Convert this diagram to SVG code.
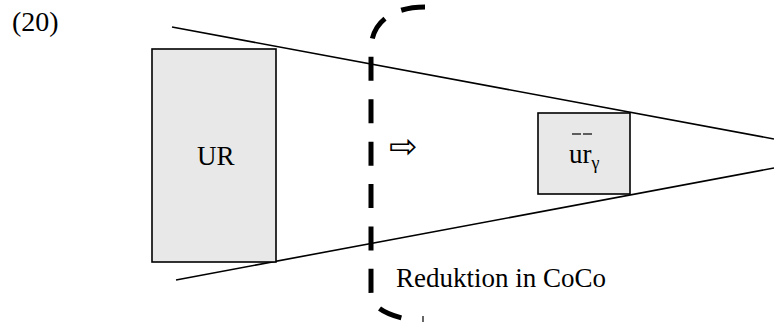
<svg xmlns="http://www.w3.org/2000/svg" width="774" height="322" viewBox="0 0 774 322">
<style>
.box{fill:#e8e8e8;stroke:#000;stroke-width:1.6}
.ln{stroke:#000;stroke-width:1.6;fill:none}
.dash{stroke:#000;stroke-width:5;fill:none;stroke-dasharray:24 18.4}
.t{font-family:"Liberation Serif","Times New Roman",serif;font-size:27px;fill:#000}
</style>
<rect width="774" height="322" fill="#fff"/>
<text class="t" x="12" y="31" style="font-size:28px">(20)</text>
<g id="connectors">
<line class="ln" x1="172" y1="27" x2="774" y2="139"/>
<line class="ln" x1="176" y1="280" x2="774" y2="168"/>
</g>
<g id="UR">
<rect class="box" x="152" y="49" width="124" height="213"/>
<text class="t" x="197" y="165">UR</text>
</g>
<g id="ur">
<rect class="box" x="538" y="113" width="92" height="81"/>
<text class="t" x="569" y="163">ur<tspan font-size="18" dy="6">γ</tspan></text>
<line stroke="#000" stroke-width="1.2" x1="572" y1="134" x2="581" y2="134"/>
<line stroke="#000" stroke-width="1.2" x1="583" y1="134" x2="592" y2="134"/>
</g>
<g id="boundary">
<path class="dash" d="M425 7 C395 7 371 20 371 50 L371 292 C371 305 381 313 406 319"/>
<line stroke="#000" stroke-width="1.2" x1="423" y1="316" x2="423" y2="322"/>
<text x="389" y="158" style="font-family:'DejaVu Sans',sans-serif;font-size:34px">⇨</text>
<text class="t" x="396" y="287">Reduktion in CoCo</text>
</g>
</svg>
